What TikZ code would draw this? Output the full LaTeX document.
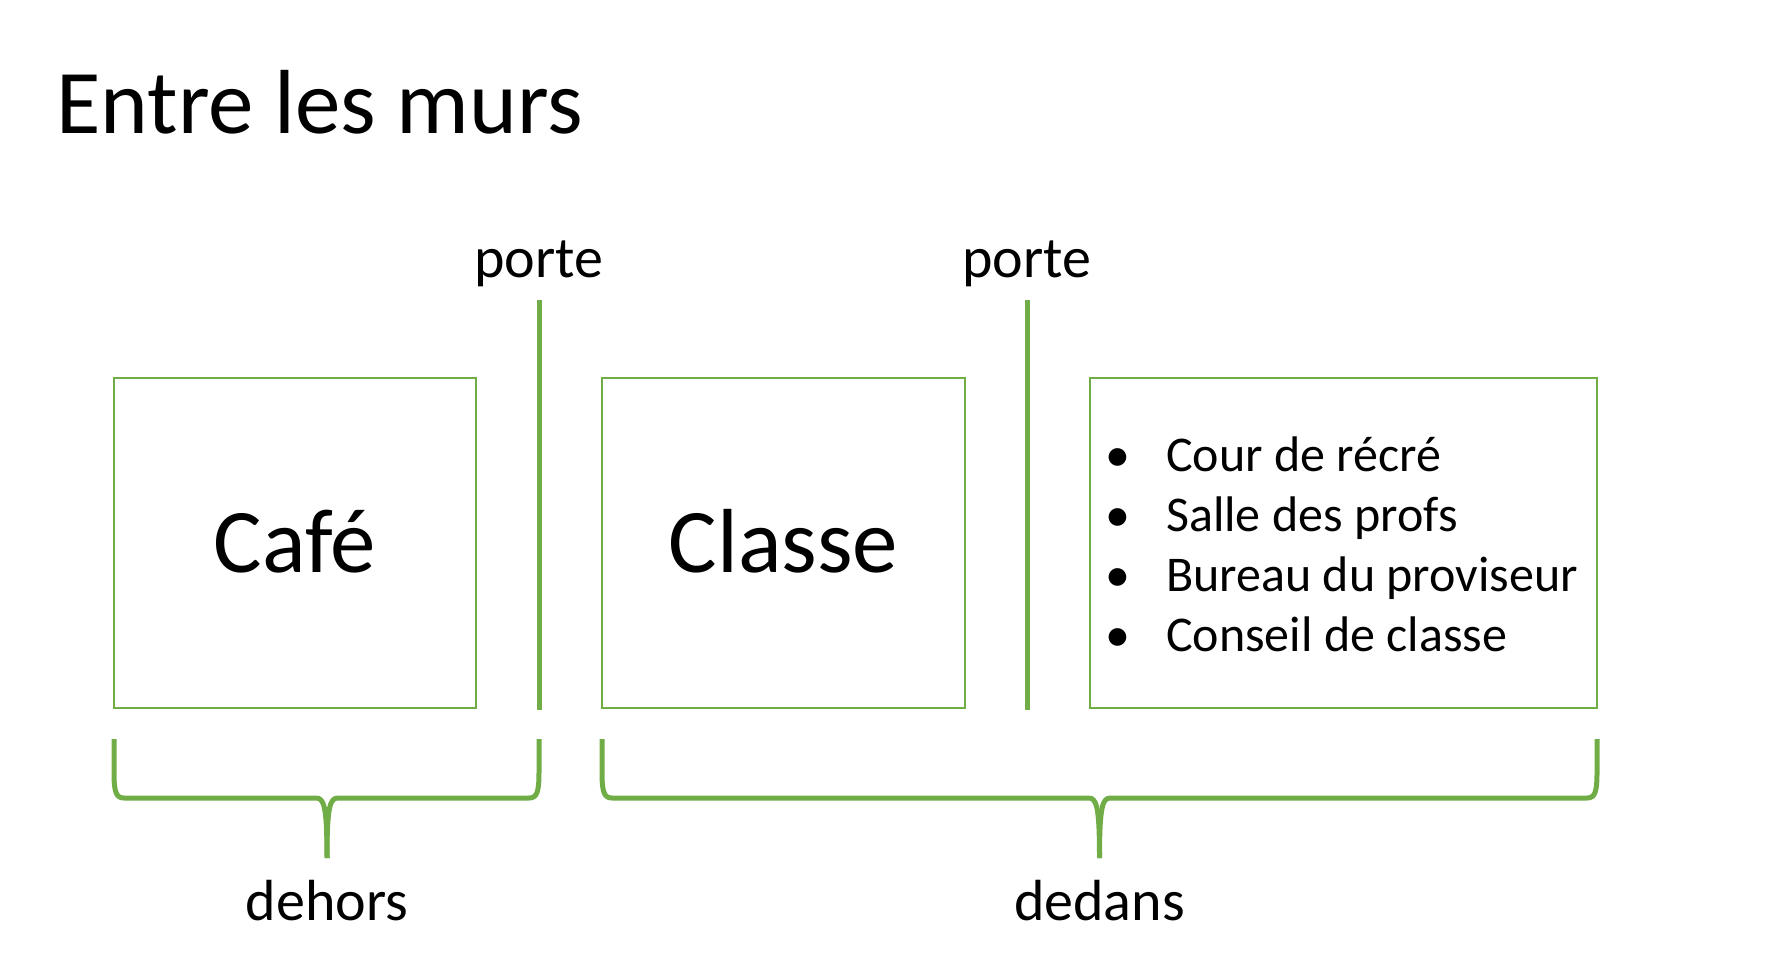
\documentclass[tikz,border=0pt]{standalone}
\usepackage{fontspec}
\setmainfont{Carlito}
\definecolor{murgreen}{HTML}{70AD47}

\begin{document}
\begin{tikzpicture}[x=1pt, y=-1pt,
    piece/.style={draw=murgreen, line width=2, minimum height=330, inner sep=0,
        font=\fontsize{91}{103}\selectfont, text height=58.5, text depth=0},
    mur/.style={draw=murgreen, line width=5},
    accolade/.style={draw=murgreen, line width=5, line join=round},
    etiquette/.style={anchor=base, inner sep=0, font=\fontsize{58}{70}\selectfont}]
    \useasboundingbox (0,0) rectangle (1766,971);

    \node[anchor=base west, inner sep=0, font=\fontsize{91}{103}\selectfont] at (56,134)(titre){Entre les murs};

    \node[piece, minimum width=362] at (295,543)(cafe){Café};
    \node[piece, minimum width=363] at (783.5,543)(classe){Classe};
    \node[piece, minimum width=507] at (1343.5,543)(lieux){};
    \node[anchor=base west, inner sep=0, font=\fontsize{50}{60}\selectfont] at (1105,471)(endroits){%
        \begin{tabular}[t]{@{}p{61pt}@{}l@{}}
        \textbullet & Cour de récré\\
        \textbullet & Salle des profs\\
        \textbullet & Bureau du proviseur\\
        \textbullet & Conseil de classe
        \end{tabular}};

    \node[etiquette] at (539,277)(porte1){porte};
    \node[etiquette] at (1027,277)(porte2){porte};
    \draw[mur] (539,300) -- (539,710);
    \draw[mur] (1027,300) -- (1027,710);

    % accolades
    \draw[accolade] (114,739) -- (114,772) .. controls (114,792) and (116,798) .. (124,798)
        -- (316,798) .. controls (324,798) and (327,806) .. (327,858);
    \draw[accolade] (539,739) -- (539,772) .. controls (539,792) and (537,798) .. (529,798)
        -- (338,798) .. controls (330,798) and (327,806) .. (327,858);
    \draw[accolade] (602,739) -- (602,772) .. controls (602,792) and (604,798) .. (612,798)
        -- (1088.5,798) .. controls (1096.5,798) and (1099.5,806) .. (1099.5,858);
    \draw[accolade] (1597,739) -- (1597,772) .. controls (1597,792) and (1595,798) .. (1587,798)
        -- (1110.5,798) .. controls (1102.5,798) and (1099.5,806) .. (1099.5,858);

    \node[etiquette] at (327,920)(dehors){dehors};
    \node[etiquette] at (1099.5,920)(dedans){dedans};
\end{tikzpicture}
\end{document}
